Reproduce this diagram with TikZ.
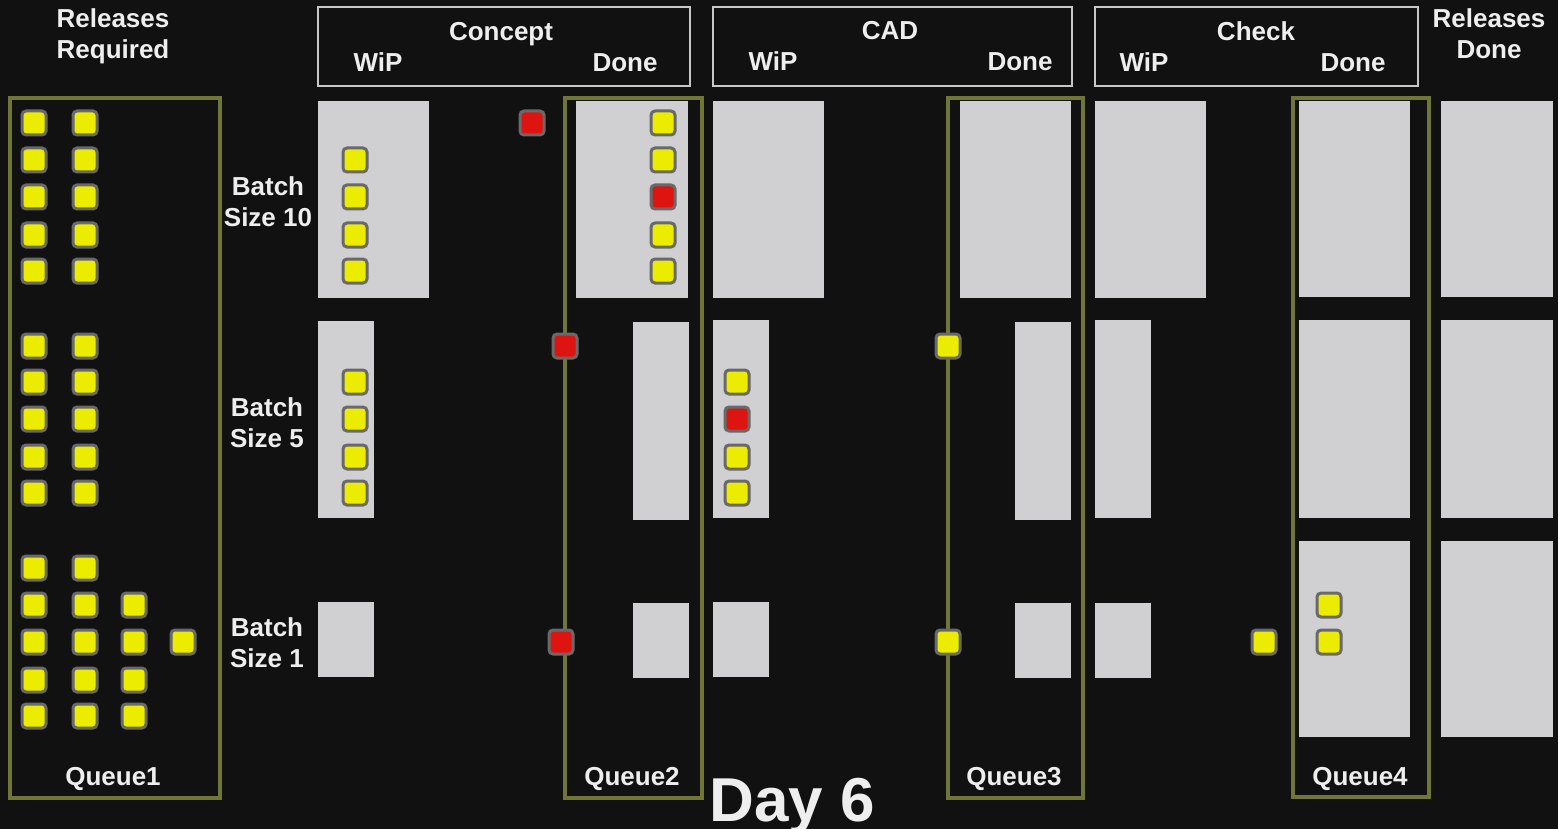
\documentclass[tikz,border=0pt]{standalone}
\usepackage{fontspec}
\setmainfont{Liberation Sans}
\definecolor{bg}{RGB}{17,17,17}
\definecolor{boxgray}{RGB}{208,208,210}
\definecolor{tokyellow}{RGB}{236,236,0}
\definecolor{tokred}{RGB}{222,20,16}
\definecolor{tokborder}{RGB}{105,105,105}
\definecolor{olive}{RGB}{112,118,54}
\definecolor{hdrborder}{RGB}{200,200,200}
\definecolor{txt}{RGB}{238,238,238}
\begin{document}
\begin{tikzpicture}[x=1pt,y=-1pt,
  tok/.style={rectangle, minimum size=24pt, inner sep=0pt, draw=tokborder, line width=3pt, rounded corners=4pt},
  ytok/.style={tok, fill=tokyellow},
  rtok/.style={tok, fill=tokred},
  graybox/.style={fill=boxgray},
  queuebox/.style={draw=olive, line width=3.5pt},
  hdrbox/.style={draw=hdrborder, line width=2pt},
  lbl/.style={text=txt, font=\fontsize{26}{31}\selectfont\bfseries, inner sep=0pt, align=center},
  daylbl/.style={text=txt, font=\fontsize{62}{70}\selectfont\bfseries, inner sep=0pt}
]
\useasboundingbox (0,0) rectangle (1558,829);
\fill[bg] (0,0) rectangle (1558,829);

% header boxes
\draw[hdrbox] (318,7) rectangle (690,86);
\draw[hdrbox] (713,7) rectangle (1072,86);
\draw[hdrbox] (1095,7) rectangle (1418,86);

% header labels (anchor=base is the last line's baseline)
\node[lbl, anchor=base] (relreq) at (113,59) {Releases\\Required};
\node[lbl, anchor=base] (concept) at (501,41) {Concept};
\node[lbl, anchor=base] (cwip) at (378,72) {WiP};
\node[lbl, anchor=base] (cdone) at (625,72) {Done};
\node[lbl, anchor=base] (cad) at (890,40) {CAD};
\node[lbl, anchor=base] (dwip) at (773,71) {WiP};
\node[lbl, anchor=base] (ddone) at (1020,71) {Done};
\node[lbl, anchor=base] (check) at (1256,41) {Check};
\node[lbl, anchor=base] (kwip) at (1144,72) {WiP};
\node[lbl, anchor=base] (kdone) at (1353,72) {Done};
\node[lbl, anchor=base] (reldone) at (1489,59) {Releases\\Done};

% batch labels
\node[lbl, anchor=base] (b10) at (268,226) {Batch\\Size 10};
\node[lbl, anchor=base] (b5) at (267,447) {Batch\\Size 5};
\node[lbl, anchor=base] (b1) at (267,667) {Batch\\Size 1};

% gray boxes row 1 (batch 10)
\fill[graybox] (318,101) rectangle (429,298);
\fill[graybox] (576,101) rectangle (688,298);
\fill[graybox] (713,101) rectangle (824,298);
\fill[graybox] (960,101) rectangle (1071,298);
\fill[graybox] (1095,101) rectangle (1206,298);
\fill[graybox] (1299,101) rectangle (1410,297);
\fill[graybox] (1441,101) rectangle (1553,297);
% row 2 (batch 5)
\fill[graybox] (318,321) rectangle (374,518);
\fill[graybox] (633,322) rectangle (689,520);
\fill[graybox] (713,320) rectangle (769,518);
\fill[graybox] (1015,322) rectangle (1071,520);
\fill[graybox] (1095,320) rectangle (1151,518);
\fill[graybox] (1299,320) rectangle (1410,518);
\fill[graybox] (1441,320) rectangle (1553,518);
% row 3 (batch 1)
\fill[graybox] (318,602) rectangle (374,677);
\fill[graybox] (633,603) rectangle (689,678);
\fill[graybox] (713,602) rectangle (769,677);
\fill[graybox] (1015,603) rectangle (1071,678);
\fill[graybox] (1095,603) rectangle (1151,678);
\fill[graybox] (1299,541) rectangle (1410,737);
\fill[graybox] (1441,541) rectangle (1553,737);

% queue boxes
\draw[queuebox] (10,98) rectangle (220,798);
\draw[queuebox] (565,98) rectangle (702,798);
\draw[queuebox] (948,98) rectangle (1083,798);
\draw[queuebox] (1293,98) rectangle (1429,797);
\node[lbl, anchor=base] (q1) at (113,785) {Queue1};
\node[lbl, anchor=base] (q2) at (632,785) {Queue2};
\node[lbl, anchor=base] (q3) at (1014,785) {Queue3};
\node[lbl, anchor=base] (q4) at (1360,785) {Queue4};

% queue1 tokens
\foreach \x/\c in {34/a,85/b}{
  \foreach \y/\r in {123/1,160/2,197/3,235/4,271/5,346/6,382/7,419/8,457/9,493/10,568/11,605/12,642/13,680/14,716/15}{
    \node[ytok] (qa\c\r) at (\x,\y) {};
  }
}
\foreach \y/\r in {605/12,642/13,680/14,716/15}{
  \node[ytok] (qac\r) at (134,\y) {};
}
\node[ytok] (qad13) at (183,642) {};

% batch 10 row
\foreach \y/\r in {160/2,197/3,235/4,271/5}{
  \node[ytok] (cw10\r) at (355,\y) {};
}
\node[rtok] (mv10) at (532,123) {};
\node[ytok] (cd101) at (663,123) {};
\node[ytok] (cd102) at (663,160) {};
\node[rtok] (cd103) at (663,197) {};
\node[ytok] (cd104) at (663,235) {};
\node[ytok] (cd105) at (663,271) {};

% batch 5 row
\foreach \y/\r in {382/2,419/3,457/4,493/5}{
  \node[ytok] (cw5\r) at (355,\y) {};
}
\node[rtok] (mv5a) at (565,346) {};
\node[ytok] (dw52) at (737,382) {};
\node[rtok] (dw53) at (737,419) {};
\node[ytok] (dw54) at (737,457) {};
\node[ytok] (dw55) at (737,493) {};
\node[ytok] (mv5b) at (948,346) {};

% batch 1 row
\node[rtok] (mv1a) at (561,642) {};
\node[ytok] (mv1b) at (948,642) {};
\node[ytok] (mv1c) at (1264,642) {};
\node[ytok] (kd11) at (1329,605) {};
\node[ytok] (kd12) at (1329,642) {};

% day label
\node[daylbl, anchor=base] (day) at (792,821) {Day 6};
\end{tikzpicture}
\end{document}
